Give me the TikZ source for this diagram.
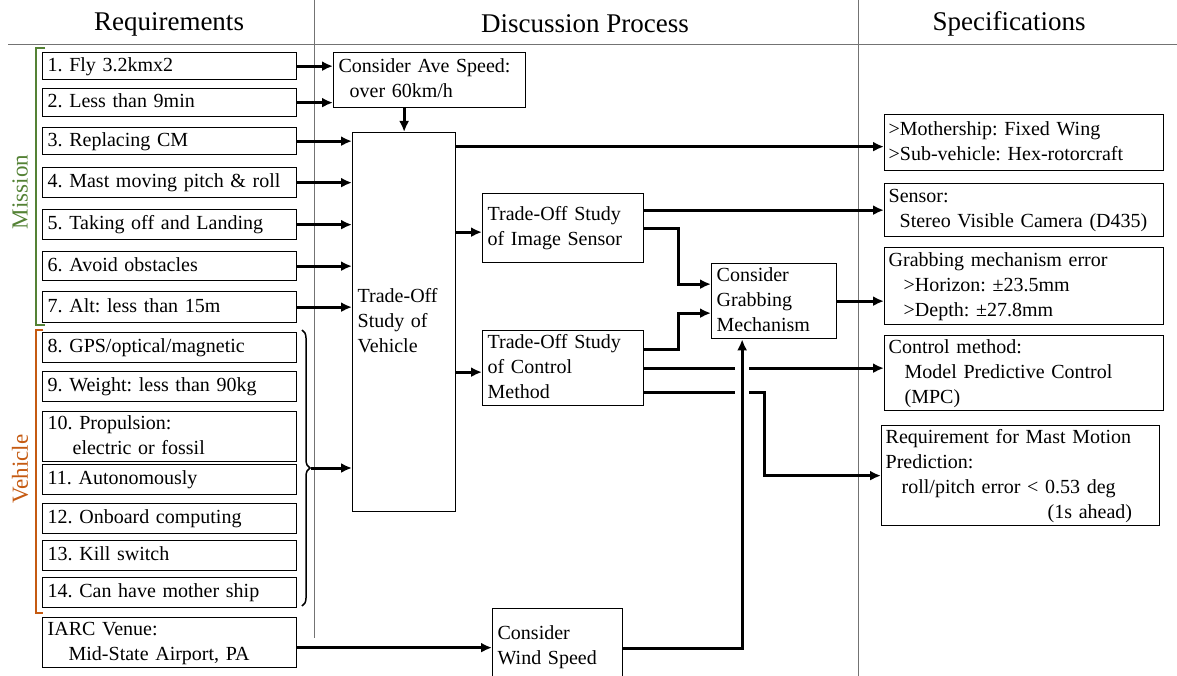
\documentclass[tikz,border=0pt]{standalone}
\usepackage{fontspec}
\setmainfont{Liberation Serif}
\usetikzlibrary{arrows.meta}
\usetikzlibrary{decorations.pathreplacing}
\definecolor{missiongreen}{RGB}{84,130,53}
\definecolor{vehicleorange}{RGB}{197,90,17}
\frenchspacing
\tikzstyle{box} = [rectangle, draw, line width=1.3pt, anchor=north west,
    inner xsep=5pt, inner ysep=0pt, align=left, font=\fontsize{20}{25}\selectfont,
    execute at begin node=\strut, execute at end node=\strut]
\tikzstyle{req} = [box, minimum width=254pt, text width=244pt]
\tikzstyle{spec} = [box, inner xsep=4pt, minimum width=279pt, text width=271pt]
\tikzstyle{line} = [draw, line width=3pt, -{Latex[length=11pt,width=10pt]}]
\tikzstyle{head} = [font=\fontsize{27}{30}\selectfont]
\tikzstyle{sep} = [draw, black!55, line width=0.8pt]
\tikzstyle{group} = [rotate=90, font=\fontsize{23}{26}\selectfont]

\begin{document}
\begin{tikzpicture}[x=1pt, y=-1pt]
    \useasboundingbox (0,0) rectangle (1177,676);
    \clip (0,0) rectangle (1177,676);
    % Column heads
    \node [head] (hreq) at (169,24) {Requirements};
    \node [head] (hdisc) at (585,24) {Discussion Process};
    \node [head] (hspec) at (1009,24) {Specifications};
    \draw [sep] (8,44) -- (1177,44);
    \draw [sep] (314,0) -- (314,638);
    \draw [sep] (858,0) -- (858,676);
    % Requirements
    \node [req, minimum height=27pt] (r1) at (42,52) {1. Fly 3.2kmx2};
    \node [req, minimum height=28pt] (r2) at (42,88) {2. Less than 9min};
    \node [req, minimum height=27pt] (r3) at (42,127) {3. Replacing CM};
    \node [req, minimum height=30pt] (r4) at (42,167) {4. Mast moving pitch \& roll};
    \node [req, minimum height=30pt] (r5) at (42,209) {5. Taking off and Landing};
    \node [req, minimum height=29pt] (r6) at (42,251) {6. Avoid obstacles};
    \node [req, minimum height=31pt] (r7) at (42,291) {7. Alt: less than 15m};
    \node [req, minimum height=30pt] (r8) at (42,332) {8. GPS/optical/magnetic};
    \node [req, minimum height=30pt] (r9) at (42,371) {9. Weight: less than 90kg};
    \node [req, minimum height=46pt] (r10) at (42,411) {10. Propulsion:\\\hspace*{25pt}electric or fossil};
    \node [req, minimum height=30pt] (r11) at (42,464) {11. Autonomously};
    \node [req, minimum height=30pt] (r12) at (42,503) {12. Onboard computing};
    \node [req, minimum height=30pt] (r13) at (42,540) {13. Kill switch};
    \node [req, minimum height=30pt] (r14) at (42,577) {14. Can have mother ship};
    \node [req, minimum height=46pt] (iarc) at (42,617) {IARC Venue:\\\hspace*{21pt}Mid-State Airport, PA};
    % Groups
    \node [group, text=missiongreen] (mission) at (20,192) {Mission};
    \node [group, text=vehicleorange] (vehicle lbl) at (20,469) {Vehicle};
    \draw [missiongreen, line width=1.5pt] (45,48) -- (36,48) -- (36,325) -- (45,325);
    \draw [vehicleorange, line width=1.5pt] (43,330) -- (36,330) -- (36,613) -- (43,613);
    \draw [line width=1.5pt, decorate, decoration={brace, amplitude=8pt}] (302,330) -- (302,606);
    \coordinate (bracetip) at (311,468);
    % Discussion process
    \node [box, minimum width=192pt, minimum height=55pt, text width=182pt] (speed) at (333,52)
        {Consider Ave Speed:\\\hspace*{11pt}over 60km/h};
    \node [box, minimum width=103pt, minimum height=379pt, text width=93pt] (vehicle) at (352,132)
        {Trade-Off\\Study of\\Vehicle};
    \node [box, minimum width=161pt, minimum height=69pt, text width=151pt] (image) at (482,193)
        {Trade-Off Study\\of Image Sensor};
    \node [box, minimum width=161pt, minimum height=70pt, text width=151pt] (control) at (482,330)
        {Trade-Off Study\\of Control\\Method};
    \node [box, minimum width=125pt, minimum height=75pt, text width=115pt] (grabbing) at (711,263)
        {Consider\\Grabbing\\Mechanism};
    \node [box, minimum width=130pt, minimum height=76pt, text width=120pt] (wind) at (492,608)
        {Consider\\Wind Speed};
    % Specifications
    \node [spec, minimum height=56pt] (spec1) at (884,114) {>Mothership: Fixed Wing\\>Sub-vehicle: Hex-rotorcraft};
    \node [spec, minimum height=53pt] (spec2) at (884,183) {Sensor:\\\hspace*{11pt}Stereo Visible Camera (D435)};
    \node [spec, minimum height=77pt] (spec3) at (884,247)
        {Grabbing mechanism error\\\hspace*{15pt}>Horizon: ±23.5mm\\\hspace*{15pt}>Depth: ±27.8mm};
    \node [spec, minimum height=72pt] (spec4) at (884,335)
        {Control method:\\\hspace*{16pt}Model Predictive Control\\\hspace*{16pt}(MPC)};
    \node [spec, minimum width=278pt, text width=270pt, minimum height=97pt] (spec5) at (881,425)
        {Requirement for Mast Motion\\Prediction:\\\hspace*{16pt}roll/pitch error < 0.53 deg\\\hspace*{162pt}(1s ahead)};
    % Draw edges
    \path [line] (r1.east) -- (r1.east -| speed.west);
    \path [line] (r2.east) -- (r2.east -| speed.west);
    \foreach \r in {r3,r4,r5,r6,r7}
        \path [line] (\r.east) -- (\r.east -| vehicle.west);
    \path [line] (bracetip) -- (bracetip -| vehicle.west);
    \path [line] (vehicle.north |- speed.south) -- (vehicle.north);
    \path [line] ([yshift=-4pt]vehicle.east |- spec1.west) -- ([yshift=-4pt]spec1.west);
    \path [line] ([yshift=-4pt]vehicle.east |- image.west) -- ([yshift=-4pt]image.west);
    \path [line] ([yshift=-4pt]vehicle.east |- control.west) -- ([yshift=-4pt]control.west);
    \path [line] (image.east |- spec2.west) -- (spec2.west);
    \path [line] (image.east) -- ++(34,0) |- ([yshift=17pt]grabbing.west);
    \path [line] ([yshift=19pt]control.east) -- ++(34,0) |- ([yshift=-12pt]grabbing.west);
    \path [line] (control.east) -- (control.east -| spec4.west);
    \path [line] ([yshift=-24pt]control.east) -- ++(120,0) |- (spec5.west);
    \path [line] (grabbing.east) -- (grabbing.east -| spec3.west);
    \path [line] ([yshift=-5pt]iarc.east) -- ([yshift=-5pt]iarc.east -| wind.west);
    \path [line, preaction={draw=white, line width=14pt, -, shorten <=30pt, shorten >=16pt}]
        ([yshift=-2pt]wind.east) -| ([xshift=-32pt]grabbing.south);
\end{tikzpicture}
\end{document}
